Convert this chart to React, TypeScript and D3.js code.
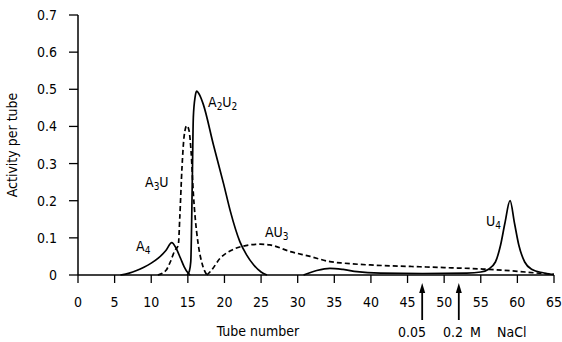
import React from "react";
import * as d3 from "d3";

const xTicks = [0, 5, 10, 15, 20, 25, 30, 35, 40, 45, 50, 55, 60, 65];
const yTicks = [0, 0.1, 0.2, 0.3, 0.4, 0.5, 0.6, 0.7];

const a4X = [5.8, 7, 8, 9, 10, 11, 12, 12.8, 13.4, 14, 14.5, 15.0, 15.3];
const a4Y = [0, 0.005, 0.012, 0.021, 0.032, 0.046, 0.066, 0.087, 0.072, 0.045, 0.022, 0.006, 0];

const a3uX = [10.9, 12, 12.6, 13.2, 13.7, 13.9, 14.2, 14.5, 14.85, 15.15, 15.45, 15.75, 16.0, 16.4, 17.0, 17.6];
const a3uY = [0, 0.012, 0.035, 0.065, 0.081, 0.155, 0.289, 0.375, 0.402, 0.39, 0.33, 0.22, 0.155, 0.085, 0.027, 0];

const a2u2X = [14.9, 15.2, 15.4, 15.6, 15.75, 16.0, 16.2, 16.6, 17.1, 18.5, 19.9, 20.8, 22.1, 23, 24, 25, 25.8];
const a2u2Y = [0, 0.01, 0.036, 0.244, 0.425, 0.48, 0.495, 0.485, 0.46, 0.35, 0.244, 0.172, 0.09, 0.055, 0.027, 0.008, 0];

const au3X = [17.6, 18.2, 19.4, 20.8, 22.4, 24.9, 26.2, 29.0, 31.7, 34.4, 36.2, 39.9, 45.4, 50, 55.3, 60, 62.2, 65];
const au3Y = [0, 0.012, 0.045, 0.065, 0.077, 0.083, 0.081, 0.063, 0.05, 0.036, 0.032, 0.027, 0.023, 0.02, 0.016, 0.01, 0.006, 0.002];

const u4X = [30.8, 32.6, 34.4, 36.2, 38.1, 41.3, 47, 53.1, 55, 56, 57, 57.7, 58.3, 59, 59.6, 60.2, 61, 62, 63.5, 65];
const u4Y = [0, 0.012, 0.018, 0.015, 0.009, 0.005, 0.004, 0.005, 0.008, 0.015, 0.035, 0.08, 0.14, 0.2, 0.14, 0.08, 0.035, 0.015, 0.006, 0.001];

const arrowTubes = [47, 52];

const FONT = "'Liberation Sans Narrow', 'DejaVu Sans Condensed', 'Liberation Sans', sans-serif";
const FS = 14;

export default function App() {
  const W = 562, H = 342;
  const x = d3.scaleLinear().domain([0, 65]).range([78, 554]);
  const y = d3.scaleLinear().domain([0, 0.7]).range([275, 15]);
  const line = d3
    .line<[number, number]>()
    .x((d) => x(d[0]))
    .y((d) => y(d[1]))
    .curve(d3.curveMonotoneX);
  const zip = (a: number[], b: number[]) => a.map((v, i) => [v, b[i]] as [number, number]);

  const series = [
    { d: zip(a4X, a4Y), dash: null },
    { d: zip(a3uX, a3uY), dash: "5,3" },
    { d: zip(a2u2X, a2u2Y), dash: null },
    { d: zip(au3X, au3Y), dash: "5,3" },
    { d: zip(u4X, u4Y), dash: null },
  ];

  const sub = (main: string, s: string) => (
    <>
      <tspan>{main}</tspan>
      <tspan fontSize={10} dy={3}>{s}</tspan>
    </>
  );

  return (
    <svg width={W} height={H} style={{ position: "absolute", left: 0, top: 0, background: "#fff" }} fontFamily={FONT}>
      <rect width={W} height={H} fill="#fff" />
      <line x1={x(0)} x2={x(65)} y1={y(0)} y2={y(0)} stroke="#000" strokeWidth={1.5} />
      <line x1={x(0)} x2={x(0)} y1={y(0)} y2={y(0.7)} stroke="#000" strokeWidth={1.5} />
      {xTicks.map((t) => (
        <g key={"x" + t}>
          <line x1={x(t)} x2={x(t)} y1={y(0)} y2={y(0) + 8} stroke="#000" strokeWidth={1.3} />
          <text x={x(t)} y={307} fontSize={FS} textAnchor="middle" fill="#000">{t}</text>
        </g>
      ))}
      {yTicks.map((t) => (
        <g key={"y" + t}>
          <line x1={x(0) - 9} x2={x(0)} y1={y(t)} y2={y(t)} stroke="#000" strokeWidth={1.3} />
          <text x={57} y={y(t) + 5} fontSize={FS} textAnchor="end" fill="#000">{t === 0 ? "0" : t.toFixed(1)}</text>
        </g>
      ))}
      <text transform={`translate(17,${(y(0) + y(0.7)) / 2}) rotate(-90)`} fontSize={FS} textAnchor="middle" fill="#000">Activity per tube</text>
      <text x={258} y={336} fontSize={FS} textAnchor="middle" fill="#000">Tube number</text>

      {series.map((s, i) => (
        <path key={i} d={line(s.d) || ""} fill="none" stroke="#000" strokeWidth={1.7} strokeDasharray={s.dash || undefined} />
      ))}

      <text x={208} y={107} fontSize={FS} fill="#000">{sub("A", "2")}<tspan dy={-3}>U</tspan><tspan fontSize={10} dy={3}>2</tspan></text>
      <text x={145} y={187} fontSize={FS} fill="#000">{sub("A", "3")}<tspan dy={-3}>U</tspan></text>
      <text x={136} y={251} fontSize={FS} fill="#000">{sub("A", "4")}</text>
      <text x={265} y={237} fontSize={FS} fill="#000">{sub("AU", "3")}</text>
      <text x={486} y={226} fontSize={FS} fill="#000">{sub("U", "4")}</text>

      {arrowTubes.map((t, i) => (
        <g key={"a" + i}>
          <line x1={x(t)} x2={x(t)} y1={320} y2={290} stroke="#000" strokeWidth={1.8} />
          <path d={`M${x(t)},283 L${x(t) - 3},293 L${x(t) + 3},293 Z`} fill="#000" />
        </g>
      ))}
      <text x={412} y={337} fontSize={FS} textAnchor="middle" fill="#000">0.05</text>
      <text x={443} y={337} fontSize={FS} fill="#000">0.2</text>
      <text x={470} y={337} fontSize={FS} fill="#000">M</text>
      <text x={497} y={337} fontSize={FS} fill="#000">NaCl</text>
    </svg>
  );
}
